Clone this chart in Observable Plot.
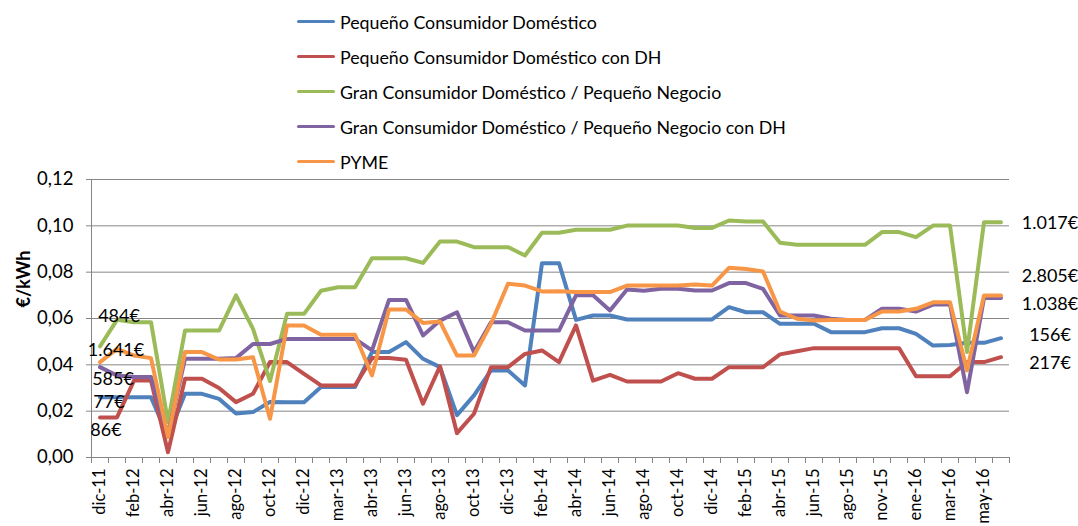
<!DOCTYPE html>
<html>
<head>
<meta charset="utf-8">
<script src="https://cdn.jsdelivr.net/npm/d3@7"></script>
<script src="https://cdn.jsdelivr.net/npm/@observablehq/plot@0.6"></script>
<style>
  body { margin: 0; background: #fff; font-family: Lato, "Open Sans", sans-serif; }
  #wrap { position: relative; width: 1078px; height: 526px; overflow: hidden; }
  #legend { position: absolute; left: 297px; top: 4px; }
  .item { display: flex; align-items: center; height: 35px; font-size: 17.8px; color: #000; white-space: nowrap; }
  .sw { width: 38px; height: 3.5px; margin-right: 5px; border-radius: 2px; }
  #chart { position: absolute; left: 0; top: 0; }
</style>
</head>
<body>
<div id="wrap"><div id="chart"></div><div id="legend"></div></div>
<script>
// ---- Data ----
const tickLabels = ["dic-11","feb-12","abr-12","jun-12","ago-12","oct-12","dic-12","mar-13","abr-13","jun-13","ago-13","oct-13","dic-13","feb-14","abr-14","jun-14","ago-14","oct-14","dic-14","feb-15","abr-15","jun-15","ago-15","nov-15","ene-16","mar-16","may-16"];

const seriesNames = [
  "Pequeño Consumidor Doméstico",
  "Pequeño Consumidor Doméstico con DH",
  "Gran Consumidor Doméstico / Pequeño Negocio",
  "Gran Consumidor Doméstico / Pequeño Negocio con DH",
  "PYME"
];

const pequeno = [0.026,0.026,0.026,0.026,0.009,0.0275,0.0275,0.0253,0.019,0.0196,0.024,0.0239,0.0239,0.0304,0.0304,0.0304,0.0455,0.0455,0.0498,0.0426,0.039,0.0183,0.0268,0.0376,0.0376,0.0311,0.0839,0.0839,0.0594,0.0613,0.0613,0.0596,0.0596,0.0596,0.0596,0.0596,0.0596,0.0649,0.0627,0.0627,0.0577,0.0577,0.0577,0.0541,0.0541,0.0541,0.0558,0.0558,0.0534,0.0483,0.0486,0.0495,0.0495,0.0515];
const pequenoDH = [0.0173,0.0173,0.0332,0.0332,0.0023,0.034,0.034,0.030,0.0239,0.0275,0.0412,0.0412,0.0361,0.0311,0.0311,0.0311,0.0429,0.0429,0.0422,0.0232,0.0394,0.0105,0.0189,0.039,0.039,0.0447,0.0462,0.0412,0.057,0.0332,0.0357,0.0328,0.0328,0.0328,0.0364,0.034,0.034,0.039,0.039,0.039,0.0445,0.0459,0.0472,0.0472,0.0472,0.0472,0.0472,0.0472,0.0351,0.0351,0.0351,0.0412,0.0412,0.0433];
const gran = [0.048,0.0594,0.0584,0.0584,0.0153,0.0548,0.0548,0.0548,0.070,0.0555,0.033,0.062,0.062,0.072,0.0735,0.0735,0.086,0.086,0.086,0.084,0.0932,0.0932,0.0908,0.0908,0.0908,0.0872,0.097,0.097,0.0983,0.0983,0.0983,0.1001,0.1001,0.1001,0.1001,0.0991,0.0991,0.1023,0.1019,0.1019,0.0927,0.0918,0.0918,0.0918,0.0918,0.0918,0.0973,0.0973,0.0951,0.1001,0.1001,0.0455,0.1016,0.1016];
const granDH = [0.039,0.0354,0.0347,0.0347,0.010,0.0426,0.0426,0.0426,0.0429,0.049,0.049,0.0512,0.0512,0.0512,0.0512,0.0512,0.0462,0.068,0.068,0.0527,0.0591,0.0627,0.0455,0.0584,0.0584,0.0548,0.0548,0.0548,0.070,0.070,0.0635,0.0725,0.072,0.0728,0.0728,0.0721,0.0721,0.0753,0.0753,0.0728,0.0613,0.0613,0.0613,0.0599,0.0594,0.0594,0.0642,0.0642,0.063,0.066,0.066,0.0282,0.0688,0.0688];
const pyme = [0.0412,0.0469,0.044,0.0429,0.0088,0.0455,0.0455,0.0423,0.0423,0.0433,0.0167,0.057,0.057,0.053,0.053,0.053,0.0354,0.0639,0.0639,0.0581,0.0587,0.044,0.044,0.0577,0.075,0.0742,0.0717,0.0718,0.0714,0.0714,0.0714,0.0742,0.0742,0.0742,0.0742,0.0747,0.0742,0.0819,0.0814,0.0803,0.063,0.0599,0.0591,0.0594,0.0594,0.0594,0.063,0.063,0.0642,0.067,0.067,0.0376,0.0699,0.0699];

const startLabels = ["77€","86€","484€","585€","1.641€"];
const endLabels = ["156€","217€","1.017€","1.038€","2.805€"];
const yTicks = [0, 0.02, 0.04, 0.06, 0.08, 0.10, 0.12];
const yTitle = "€/kWh";

// ---- Styles ----
const colors = ["#4F81BD","#C0504D","#9BBB59","#8064A2","#F79646"];
const startOffsets = [[9,5],[6,13],[19,-30],[13,12],[16,-12]];
const endOffsets = [[49,-3],[49,6],[49,1.5],[49,6.5],[49,-19]];
const gridColor = "#868686";

// ---- Build ----
const allValues = [pequeno, pequenoDH, gran, granDH, pyme];
const rows = allValues.flatMap((vals, k) => vals.map((v, i) => ({i, v, name: seriesNames[k]})));
const nCat = pequeno.length;
const fmt = d => d.toFixed(2).replace(".", ",");

const textMarks = [];
allValues.forEach((vals, k) => {
  const first = [{i: 0, v: vals[0]}];
  const last = [{i: vals.length - 1, v: vals[vals.length - 1]}];
  textMarks.push(Plot.text(first, {x: d => d.i + 0.5, y: "v", text: () => startLabels[k], dx: startOffsets[k][0], dy: startOffsets[k][1], fill: "#000", fontSize: 18}));
  textMarks.push(Plot.text(last, {x: d => d.i + 0.5, y: "v", text: () => endLabels[k], dx: endOffsets[k][0], dy: endOffsets[k][1], fill: "#000", fontSize: 18}));
});

const chart = Plot.plot({
  width: 1078,
  height: 526,
  marginTop: 179,
  marginBottom: 69,
  marginLeft: 91,
  marginRight: 69,
  style: {fontFamily: "Lato, 'Open Sans', sans-serif", fontSize: "18px", color: "#000", background: "transparent", overflow: "visible"},
  x: {domain: [0, nCat], axis: null},
  y: {domain: [0, 0.12], axis: null},
  color: {domain: seriesNames, range: colors},
  marks: [
    Plot.gridY(yTicks, {stroke: gridColor, strokeOpacity: 1, strokeWidth: 1}),
    Plot.ruleX([0], {stroke: gridColor}),
    Plot.axisY(yTicks, {anchor: "left", tickSize: 5, tickPadding: 13, tickFormat: fmt, stroke: gridColor, fill: "#000", fontSize: 18.5, label: null}),
    Plot.axisX(d3.range(nCat + 1), {anchor: "bottom", tickSize: 6, tickFormat: () => "", stroke: gridColor, label: null}),
    Plot.axisX(tickLabels.map((_, k) => 2 * k + 0.5), {anchor: "bottom", tickSize: 0, tickPadding: 11, tickRotate: -90, tickFormat: d => tickLabels[(d - 0.5) / 2], fill: "#000", fontSize: 16.5, label: null}),
    Plot.line(rows, {x: d => d.i + 0.5, y: "v", z: "name", stroke: "name", strokeWidth: 4, strokeLinejoin: "round", strokeLinecap: "round"}),
    ...textMarks,
    Plot.text([yTitle], {frameAnchor: "left", text: d => d, rotate: -90, dx: -67, dy: -11, fontWeight: "bold", fontSize: 18, fill: "#000"})
  ]
});
document.getElementById("chart").appendChild(chart);

// Legend
const legend = document.getElementById("legend");
seriesNames.forEach((n, k) => {
  const it = document.createElement("div");
  it.className = "item";
  const sw = document.createElement("span");
  sw.className = "sw";
  sw.style.background = colors[k];
  const tx = document.createElement("span");
  tx.textContent = n;
  it.appendChild(sw);
  it.appendChild(tx);
  legend.appendChild(it);
});
</script>
</body>
</html>
